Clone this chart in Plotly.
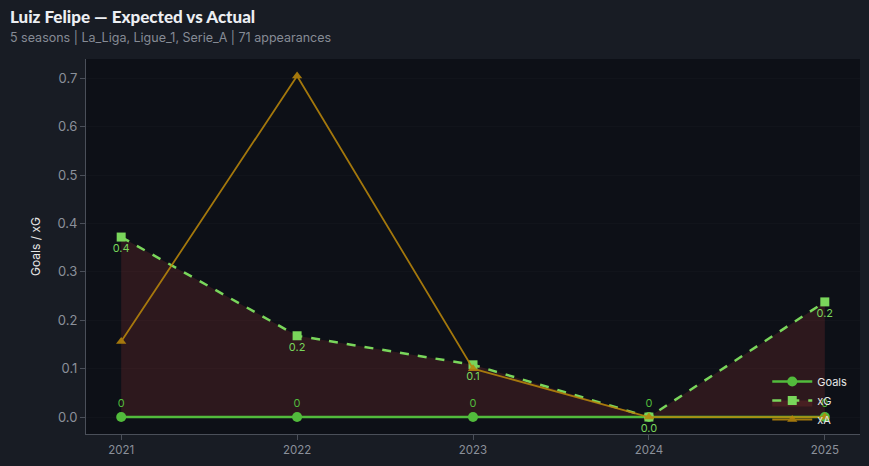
import plotly.graph_objects as go

seasons = [2021, 2022, 2023, 2024, 2025]
goals = [0, 0, 0, 0, 0]
xg = [0.372, 0.168, 0.108, 0.0, 0.238]
xa = [0.156, 0.705, 0.100, 0.0, 0.0]
goal_labels = ["0", "0", "0", "0", "0"]
xg_labels = ["0.4", "0.2", "0.1", "0.0", "0.2"]

PAPER = "#181c24"
PLOT = "#0d1017"
C_GOALS = "#52bb3c"
C_XG = "#79d65b"
C_XA = "#b8860b"

fig = go.Figure()
fig.add_trace(go.Scatter(
    x=seasons, y=goals, name="Goals", mode="lines+markers+text",
    line=dict(color=C_GOALS, width=2.5),
    marker=dict(symbol="circle", size=10, color=C_GOALS),
    text=goal_labels, textposition="top center",
    textfont=dict(color=C_GOALS, size=11, family="Inter"),
))
fig.add_trace(go.Scatter(
    x=seasons, y=xg, name="xG", mode="lines+markers+text",
    line=dict(color=C_XG, width=2.5, dash="dash"),
    marker=dict(symbol="square", size=9, color=C_XG),
    fill="tonexty", fillcolor="rgba(220,70,60,0.16)",
    text=xg_labels, textposition="bottom center",
    textfont=dict(color=C_XG, size=11, family="Inter"),
))
fig.add_trace(go.Scatter(
    x=seasons, y=xa, name="xA", mode="lines+markers", opacity=0.88,
    line=dict(color=C_XA, width=1.8),
    marker=dict(symbol="triangle-up", size=9, color=C_XA),
))

fig.update_layout(
    width=869, height=466,
    paper_bgcolor=PAPER, plot_bgcolor=PLOT,
    margin=dict(l=86, r=9, t=59, b=32),
    font=dict(family="Inter", color="#8b909a"),
    showlegend=True,
    legend=dict(x=0.99, xanchor="right", y=0.0, yanchor="bottom", traceorder="normal",
                bgcolor="rgba(0,0,0,0)", font=dict(color="#e6e6e6", size=11, family="Inter"),
                tracegroupgap=0, itemwidth=40),
    xaxis=dict(range=[2020.8, 2025.2], tickvals=seasons, ticktext=[str(s) for s in seasons],
               showgrid=False, zeroline=False, showline=True, linecolor="#4a4f59", linewidth=1,
               ticks="outside", ticklen=5, tickcolor="#4a4f59",
               tickfont=dict(size=11.5, color="#8b909a")),
    yaxis=dict(range=[-0.035, 0.74], dtick=0.1, tickformat=".1f",
               showgrid=True, gridcolor="rgba(255,255,255,0.02)", zeroline=False,
               showline=True, linecolor="#4a4f59", linewidth=1,
               ticks="outside", ticklen=5, tickcolor="#4a4f59",
               tickfont=dict(size=13, color="#8b909a"),
               title=dict(text="Goals / xG", font=dict(size=12, color="#e6e6e6"), standoff=14)),
    annotations=[
        dict(text="Luiz Felipe — Expected vs Actual", xref="paper", yref="paper",
             x=-78/774, y=1 + (59 - 17) / 375, xanchor="left", yanchor="middle",
             showarrow=False, font=dict(size=17, color="#eceef2", family="Lato", weight=900)),
        dict(text="5 seasons | La_Liga, Ligue_1, Serie_A | 71 appearances", xref="paper", yref="paper",
             x=-78/774, y=1 + (59 - 37) / 375, xanchor="left", yanchor="middle",
             showarrow=False, font=dict(size=12.5, color="#868b95", family="Inter")),
    ],
)

fig.write_html("out.html", config={"displayModeBar": False},
               post_script="document.body.style.margin='0';document.body.style.background='#181c24';")
